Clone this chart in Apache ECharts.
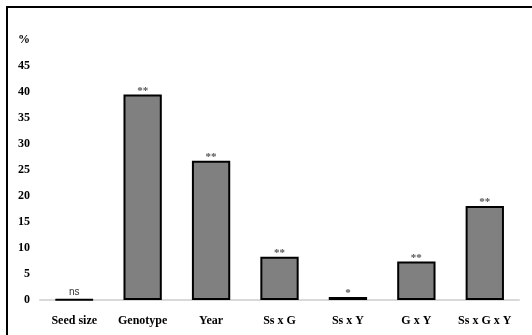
<!DOCTYPE html>
<html>
<head>
<meta charset="utf-8">
<script src="https://cdn.jsdelivr.net/npm/echarts@6/dist/echarts.min.js"></script>
<style>
  html, body { margin: 0; padding: 0; background: #fff; }
  #chart { width: 532px; height: 335px; }
</style>
</head>
<body>
<div id="chart"></div>
<script>
// Share of variance explained by each source (%)
const categories = ['Seed size', 'Genotype', 'Year', 'Ss x G', 'Ss x Y', 'G x Y', 'Ss x G x Y'];
const values = [0.1, 39.5, 26.8, 8.3, 0.6, 7.4, 18.1];
const significance = ['ns', '**', '**', '**', '*', '**', '**'];
const yTicks = [0, 5, 10, 15, 20, 25, 30, 35, 40, 45, 50];

const chart = echarts.init(document.getElementById('chart'), null, { renderer: 'canvas' });

const serifBold = {
  fontFamily: '"Liberation Serif", "Times New Roman", serif',
  fontWeight: 'bold',
  color: '#000'
};

// "ns" is set in a plain sans face; the star marks in bold serif
const barData = values.map((v, i) => significance[i] === 'ns'
  ? { value: v, label: { fontFamily: '"Liberation Sans", Arial, sans-serif', fontWeight: 'normal', fontSize: 10, color: '#333', distance: 1 } }
  : v);

chart.setOption({
  animation: false,
  backgroundColor: '#fff',
  graphic: [{
    type: 'rect',
    shape: { x: 7, y: 7, width: 560, height: 360 },
    style: { fill: 'none', stroke: '#000', lineWidth: 2 },
    silent: true
  }],
  grid: { left: 40, right: 13, top: 40, bottom: 35 },
  xAxis: {
    type: 'category',
    data: categories,
    axisLine: { lineStyle: { color: '#d9d9d9', width: 2 } },
    axisTick: { show: false },
    axisLabel: Object.assign({ fontSize: 12, margin: 15, interval: 0 }, serifBold)
  },
  yAxis: {
    type: 'value',
    min: yTicks[0],
    max: yTicks[yTicks.length - 1],
    interval: 5,
    splitLine: { show: false },
    axisLine: { show: false },
    axisTick: { show: false },
    axisLabel: Object.assign({
      fontSize: 12,
      margin: 10,
      formatter: v => (v === 50 ? '%' : String(v))
    }, serifBold)
  },
  series: [{
    type: 'bar',
    data: barData,
    barCategoryGap: '44%',
    itemStyle: { color: '#808080', borderColor: '#000', borderWidth: 2 },
    label: {
      show: true,
      position: 'top',
      distance: -2,
      fontSize: 11,
      fontWeight: 'bold',
      color: '#555',
      fontFamily: '"Liberation Serif", "Times New Roman", serif',
      formatter: p => significance[p.dataIndex]
    }
  }]
});
</script>
</body>
</html>
